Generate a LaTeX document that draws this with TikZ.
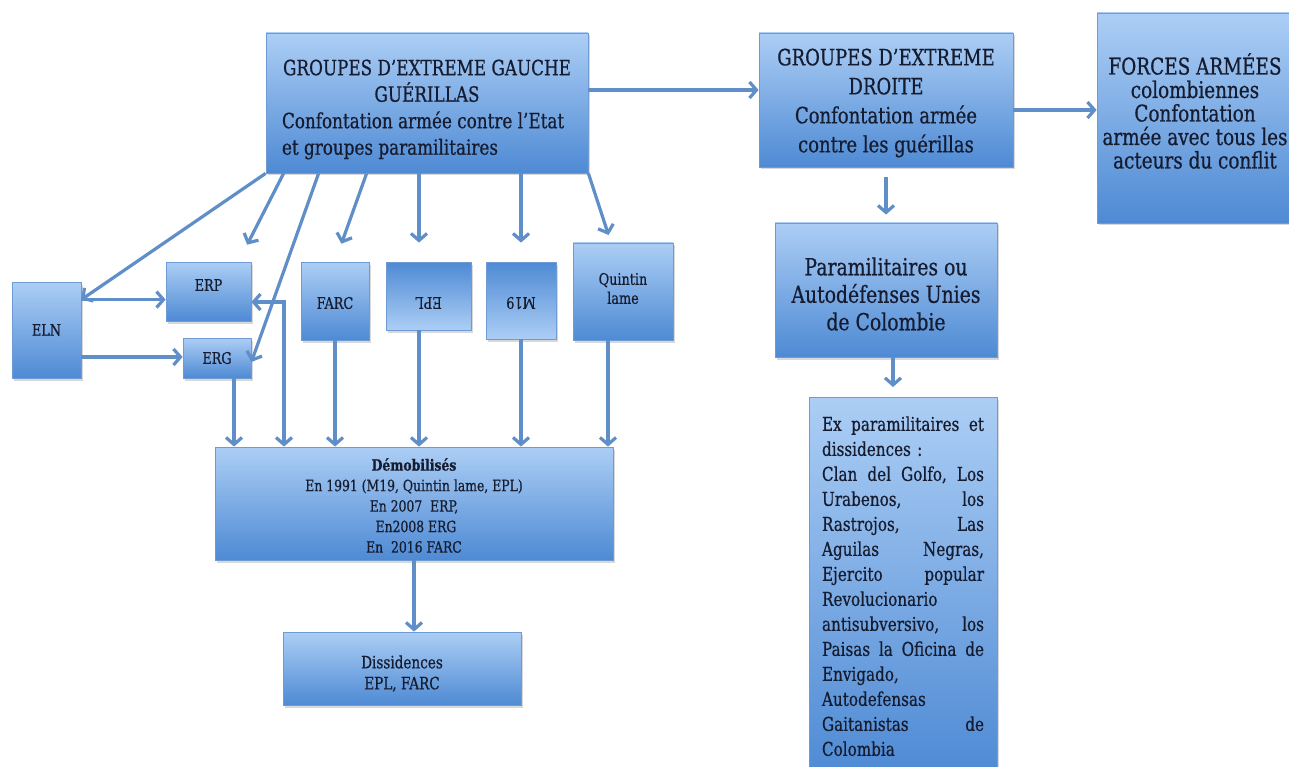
\documentclass[tikz,border=0pt]{standalone}
\usepackage{fontspec}
\setmainfont{DejaVu Serif}[FakeStretch=0.8, FakeBold=0.6]
\usetikzlibrary{arrows.meta,shadows}
\definecolor{boxtop}{RGB}{172,206,245}
\definecolor{boxbot}{RGB}{78,138,212}
\definecolor{boxline}{RGB}{110,155,212}
\definecolor{arrblue}{RGB}{96,142,200}
\definecolor{ink}{RGB}{22,28,48}
\begin{document}
\begin{tikzpicture}[x=1pt,y=-1pt,text=ink,
  box/.style={draw=boxline, line width=0.8pt, top color=boxtop, bottom color=boxbot, inner sep=0pt, align=center,
    drop shadow={shadow xshift=1.5pt, shadow yshift=-2.5pt, opacity=0.3}},
  flipbox/.style={box, top color=boxbot, bottom color=boxtop},
  gtext/.style={font=\fontsize{16}{19}\selectfont, align=center},
  gbox/.style={box, font=\fontsize{16}{19}\selectfont},
  arr/.style={draw=arrblue, line width=3.2pt, -{Straight Barb[length=7pt,width=16pt]}},
  twoarr/.style={arr, {Straight Barb[length=7pt,width=16pt]}-{Straight Barb[length=7pt,width=16pt]}}]
\useasboundingbox (0,0) rectangle (1289,767);
\fill[white] (0,0) rectangle (1289,767);
% Define boxes
\node[box, minimum width=322pt, minimum height=140pt] (main) at (427,103) {};
\node[font=\fontsize{21}{26.5}\selectfont] (main-t) at ([yshift=-6.5pt]main.center)
  {\parbox{290pt}{\centering GROUPES D’EXTREME GAUCHE\\GUÉRILLAS\par\raggedright Confontation armée contre l’Etat\\et groupes paramilitaires}};
\node[box, minimum width=254pt, minimum height=134pt] (droite) at (886,100) {};
\node[align=center, font=\fontsize{22.5}{29}\selectfont] (droite-t) at ([yshift=-3pt]droite.center)
  {GROUPES D’EXTREME\\DROITE\\Confontation armée\\contre les guérillas};
\node[box, minimum width=196pt, minimum height=210pt] (forces) at (1195,118) {};
\node[align=center, font=\fontsize{23}{23.5}\selectfont] (forces-t) at ([yshift=7pt]forces.center)
  {FORCES ARMÉES\\colombiennes\\Confontation\\armée avec tous les\\acteurs du conflit};
\node[box, minimum width=222pt, minimum height=134pt] (para) at (886,290) {};
\node[align=center, font=\fontsize{23.5}{27.5}\selectfont] (para-t) at ([yshift=-4pt]para.center)
  {Paramilitaires ou\\Autodéfenses Unies\\de Colombie};
\node[box, minimum width=188pt, anchor=north, inner ysep=19pt, text width=162pt, align=left, font=\fontsize{19}{25}\selectfont] (ex) at (903,397)
  {Ex\hfill paramilitaires\hfill et\\
   dissidences :\\
   Clan\hfill del\hfill Golfo,\hfill Los\\
   Urabenos,\hfill los\\
   Rastrojos,\hfill Las\\
   Aguilas\hfill Negras,\\
   Ejercito\hfill popular\\
   Revolucionario\\
   antisubversivo,\hfill los\\
   Paisas\hfill la\hfill Oficina\hfill de\\
   Envigado,\\
   Autodefensas\\
   Gaitanistas\hfill de\\
   Colombia};
\node[gbox, minimum width=69pt, minimum height=96pt] (eln) at (46.5,330) {ELN};
\node[box, minimum width=85pt, minimum height=59pt] (erp) at (208.5,291.5) {};
\node[gtext] (erp-t) at ([yshift=6.5pt]erp.center) {ERP};
\node[gbox, minimum width=68pt, minimum height=40pt] (erg) at (217,358) {ERG};
\node[box, minimum width=68pt, minimum height=78pt] (farc) at (335,301) {};
\node[gtext] (farc-t) at ([yshift=-2pt]farc.center) {FARC};
\node[flipbox, minimum width=85pt, minimum height=68pt] (epl) at (428.5,296) {};
\node[gtext] (epl-t) at ([yshift=-7pt]epl.center) {\rotatebox{180}{EPL}};
\node[flipbox, minimum width=70pt, minimum height=77pt] (m19) at (521,300.5) {};
\node[gtext] (m19-t) at ([yshift=-2.5pt]m19.center) {\rotatebox{180}{M19}};
\node[box, minimum width=100pt, minimum height=97pt] (quin) at (623,291.5) {};
\node[gtext] (quin-t) at ([yshift=3pt]quin.center) {Quintin\\lame};
\node[box, minimum width=398pt, minimum height=113pt] (demob) at (414,503.5) {};
\node[align=center, font=\fontsize{15.5}{20.5}\selectfont] (demob-t) at ([yshift=-2pt]demob.center)
  {\textbf{Démobilisés}\\En 1991 (M19, Quintin lame, EPL)\\En 2007~~ERP,\\~En2008 ERG\\En~~2016 FARC};
\node[box, minimum width=238pt, minimum height=73pt] (diss) at (402,668.5) {};
\node[align=center, font=\fontsize{17}{21}\selectfont] (diss-t) at ([yshift=-5pt]diss.center) {Dissidences\\EPL, FARC};
% Arrows from the guerrilla box
\draw[arr] (main.south west) -- ([yshift=-18pt]eln.north east);
\draw[arr, shorten >=19pt] ([xshift=18pt]main.south west) -- ([xshift=30pt]erp.north);
\draw[arr] ([xshift=53pt]main.south west) -- ([yshift=-4pt]erg.east);
\draw[arr, shorten >=19pt] ([xshift=101pt]main.south west) -- (farc.north);
\draw[arr, shorten >=19pt] ([xshift=-9.5pt]epl.north |- main.south) -- ([xshift=-9.5pt]epl.north);
\draw[arr, shorten >=19pt] (m19.north |- main.south) -- (m19.north);
\draw[arr, shorten >=8pt] (main.south east) -- ([xshift=-12pt]quin.north);
\draw[arr] ([yshift=-18pt]eln.north east) -- ([yshift=-18pt]eln.north east -| erp.west);
\draw[arr] ([yshift=-27pt]eln.east) -- ([yshift=-27pt]eln.east -| erg.west);
% Arrows to the demobilised box
\draw[twoarr] ([yshift=-10.5pt]erp.east) -| ([xshift=-130pt]demob.north);
\draw[arr] ([xshift=17pt]erg.south) -- ([xshift=17pt]erg.south |- demob.north);
\draw[arr] (farc.south) -- (farc.south |- demob.north);
\draw[arr] ([xshift=-9.5pt]epl.south) -- ([xshift=-9.5pt]epl.south |- demob.north);
\draw[arr] (m19.south) -- (m19.south |- demob.north);
\draw[arr] ([xshift=-15pt]quin.south) -- ([xshift=-15pt]quin.south |- demob.north);
\draw[arr] (demob.south) -- (demob.south |- diss.north);
% Right hand side
\draw[arr] ([yshift=13pt]main.east) -- ([yshift=13pt]main.east -| droite.west);
\draw[arr] ([yshift=-10pt]droite.east) -- ([yshift=-10pt]droite.east -| forces.west);
\draw[arr, shorten <=10pt, shorten >=8pt] (droite.south) -- (para.north);
\draw[arr, shorten >=10pt] ([xshift=-10pt]ex.north |- para.south) -- ([xshift=-10pt]ex.north);
\end{tikzpicture}
\end{document}
